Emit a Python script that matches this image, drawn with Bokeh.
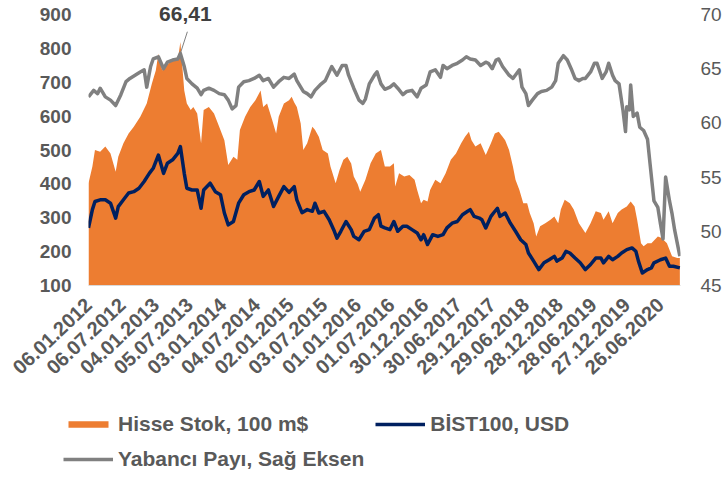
from bokeh.plotting import figure
from bokeh.models import (Range1d, LinearAxis, FixedTicker, Label, Legend, LegendItem,
                          ColumnDataSource)
from bokeh.layouts import column
from bokeh.embed import file_html
from bokeh.resources import INLINE

# ---------------- data (weekly index from 06.01.2012) ----------------
x_tick_weeks = [0, 26, 52, 78, 104, 130, 156, 182, 208, 234,
                260, 286, 312, 338, 364, 390, 416, 442]
x_labels = ["06.01.2012", "06.07.2012", "04.01.2013", "05.07.2013", "03.01.2014",
            "04.07.2014", "02.01.2015", "03.07.2015", "01.01.2016", "01.07.2016",
            "30.12.2016", "30.06.2017", "29.12.2017", "29.06.2018", "28.12.2018",
            "28.06.2019", "27.12.2019", "26.06.2020"]
left_ticks = [100, 200, 300, 400, 500, 600, 700, 800, 900]
right_ticks = [45, 50, 55, 60, 65, 70]

# Hisse Stok, 100 m$
stock_week = [0, 3, 5, 9, 13, 17, 21, 23, 27, 31,
              35, 40, 45, 49, 52, 54, 57, 60, 62, 66,
              69, 71, 74, 76, 79, 81, 84, 87, 89, 93,
              97, 101, 105, 108, 112, 115, 117, 121, 125, 129,
              133, 135, 138, 142, 145, 147, 151, 155, 157, 159,
              161, 164, 166, 169, 173, 175, 178, 181, 185, 187,
              191, 194, 197, 200, 203, 205, 208, 210, 214, 218,
              222, 226, 229, 233, 236, 237, 240, 244, 248, 252,
              254, 257, 259, 262, 264, 268, 272, 276, 280, 284,
              288, 291, 294, 296, 299, 303, 307, 311, 314, 317,
              320, 322, 325, 328, 330, 333, 336, 339, 341, 344,
              346, 349, 353, 357, 360, 363, 365, 368, 372, 375,
              379, 384, 388, 392, 396, 398, 402, 405, 409, 412,
              416, 419, 422, 424, 427, 429, 432, 435, 440, 443,
              447, 451, 455, 457]
stock_val = [402, 451, 500, 495, 510, 490, 436, 480, 520, 549,
             569, 598, 637, 696, 735, 784, 735, 755, 755, 770,
             765, 819, 676, 637, 618, 627, 608, 520, 618, 627,
             608, 569, 529, 456, 480, 471, 559, 598, 627, 647,
             676, 627, 637, 588, 549, 598, 637, 647, 657, 640,
             627, 578, 500, 520, 569, 560, 539, 500, 490, 451,
             402, 441, 471, 480, 460, 422, 400, 377, 412, 461,
             490, 500, 451, 451, 461, 392, 431, 422, 426, 412,
             382, 343, 353, 348, 382, 412, 402, 431, 471, 490,
             520, 539, 554, 529, 510, 520, 485, 520, 549, 554,
             539, 529, 500, 451, 412, 382, 343, 343, 314, 284,
             245, 275, 284, 294, 304, 284, 324, 353, 343, 324,
             284, 255, 284, 319, 314, 294, 319, 284, 314, 324,
             333, 348, 333, 294, 225, 216, 225, 225, 245, 240,
             225, 186, 181, 181]

# BIST100, USD
bist_week = [0, 3, 5, 9, 13, 17, 21, 23, 27, 31,
             35, 39, 43, 47, 50, 54, 58, 61, 65, 69,
             71, 74, 76, 80, 84, 87, 89, 94, 98, 102,
             105, 108, 112, 116, 120, 124, 128, 132, 135, 139,
             143, 147, 151, 155, 159, 161, 165, 169, 173, 175,
             178, 182, 186, 190, 192, 195, 199, 203, 205, 209,
             213, 217, 221, 224, 226, 229, 233, 236, 239, 243,
             246, 250, 254, 257, 259, 262, 266, 270, 274, 277,
             281, 285, 289, 293, 295, 298, 302, 304, 307, 311,
             313, 316, 318, 322, 326, 330, 334, 338, 340, 344,
             348, 352, 356, 360, 362, 366, 369, 372, 376, 380,
             384, 388, 392, 396, 398, 402, 405, 409, 412, 416,
             420, 423, 425, 428, 432, 435, 437, 442, 446, 449,
             452, 457]
bist_val = [270, 324, 348, 353, 353, 343, 299, 333, 353, 373,
            377, 387, 407, 431, 446, 485, 431, 461, 471, 490,
            510, 431, 387, 382, 382, 328, 382, 402, 377, 368,
            314, 279, 289, 343, 368, 377, 382, 407, 363, 382,
            333, 363, 392, 375, 392, 353, 315, 324, 319, 343,
            314, 319, 294, 260, 240, 260, 289, 265, 245, 235,
            260, 265, 299, 309, 275, 270, 265, 289, 260, 275,
            275, 265, 255, 235, 250, 221, 250, 245, 250, 270,
            284, 289, 309, 319, 324, 304, 299, 294, 270, 304,
            314, 328, 304, 314, 284, 260, 235, 221, 196, 172,
            147, 167, 176, 186, 172, 181, 201, 196, 181, 167,
            147, 162, 181, 181, 167, 186, 176, 186, 196, 206,
            211, 201, 172, 137, 147, 152, 167, 176, 181, 157,
            157, 152]

# Yabanci Payi (right axis, %)
gray_week = [0, 4, 7, 9, 13, 17, 21, 25, 29, 32,
             36, 40, 43, 45, 48, 50, 54, 58, 61, 65,
             69, 71, 74, 76, 80, 84, 87, 89, 93, 97,
             101, 105, 108, 111, 114, 116, 120, 124, 128, 132,
             135, 139, 143, 147, 151, 155, 159, 161, 164, 166,
             169, 172, 175, 179, 183, 186, 188, 192, 196, 199,
             201, 205, 209, 212, 214, 217, 221, 223, 226, 229,
             233, 236, 239, 243, 246, 250, 254, 257, 261, 264,
             268, 272, 274, 277, 281, 285, 289, 292, 295, 299,
             303, 307, 309, 312, 315, 317, 320, 325, 328, 333,
             335, 338, 340, 343, 347, 350, 354, 358, 361, 363,
             367, 370, 373, 376, 379, 382, 384, 388, 391, 393,
             397, 400, 402, 405, 407, 410, 413, 415, 416, 418,
             419, 421, 424, 426, 429, 432, 434, 437, 440, 442,
             444, 446, 449, 451, 453, 457]
gray_val = [62.4, 63.0, 62.7, 63.2, 62.4, 62.1, 61.6, 62.6, 63.8, 64.1,
            64.4, 64.7, 64.9, 63.3, 65.2, 65.9, 66.1, 65.0, 65.6, 65.8,
            65.9, 66.41, 65.2, 64.1, 63.6, 63.2, 62.6, 63.0, 63.2, 63.0,
            62.7, 62.6, 62.1, 61.3, 61.6, 63.3, 63.8, 63.9, 64.1, 64.4,
            63.9, 64.1, 63.3, 63.8, 64.2, 64.1, 64.5, 63.9, 63.3, 62.9,
            62.7, 62.4, 63.0, 63.5, 63.9, 64.7, 65.2, 64.4, 65.3, 65.3,
            64.4, 63.2, 62.1, 61.8, 62.2, 63.6, 64.4, 64.7, 63.6, 63.1,
            63.3, 63.6, 63.2, 62.6, 62.9, 63.0, 62.4, 63.2, 63.5, 64.7,
            64.9, 64.2, 65.3, 65.0, 65.3, 65.5, 65.8, 66.1, 65.9, 65.8,
            65.3, 65.6, 65.5, 65.0, 65.8, 65.9, 65.2, 64.4, 64.1, 64.9,
            63.3, 62.7, 61.6, 62.1, 62.7, 62.9, 63.0, 63.3, 63.9, 65.5,
            66.2, 65.8, 65.0, 64.1, 63.9, 64.1, 64.1, 64.7, 65.5, 65.5,
            64.1, 64.7, 65.5, 64.4, 63.9, 63.6, 61.2, 59.2, 61.5, 61.2,
            63.5, 60.6, 60.9, 59.6, 59.3, 58.5, 56.2, 52.8, 52.2, 50.7,
            49.3, 55.0, 52.8, 51.6, 50.1, 47.7]

series_names = ["Hisse Stok, 100 m$", "BİST100, USD", "Yabancı Payı, Sağ Eksen"]

# ---------------- style ----------------
ORANGE = "#ED7D31"
NAVY = "#002060"
GRAY = "#808080"
TXT = "#595959"
FONT = "Liberation Sans"

src_stock = ColumnDataSource(dict(x=stock_week, y=stock_val))
src_bist = ColumnDataSource(dict(x=bist_week, y=bist_val))
src_gray = ColumnDataSource(dict(x=gray_week, y=gray_val))

# frame spans y = 2..285 px; the 900 / 70 level sits 12 px below the frame top
HEADROOM = 12 / 271
l_lo, l_hi = left_ticks[0], left_ticks[-1]
r_lo, r_hi = right_ticks[0], right_ticks[-1]

p = figure(width=726, height=395, output_backend="svg", toolbar_location=None,
           x_range=Range1d(0, 457.5),
           y_range=Range1d(l_lo, l_hi + (l_hi - l_lo) * HEADROOM),
           min_border_left=88, min_border_right=46, min_border_top=2, min_border_bottom=110,
           frame_align=False)
p.outline_line_color = None
p.grid.visible = False
p.extra_y_ranges = {"right": Range1d(r_lo, r_hi + (r_hi - r_lo) * HEADROOM)}

p.varea(x="x", y1=l_lo, y2="y", source=src_stock, fill_color=ORANGE)
p.line("x", "y", source=src_bist, line_color=NAVY, line_width=3.5, line_join="round")
p.line("x", "y", source=src_gray, y_range_name="right", line_color=GRAY,
       line_width=3.5, line_join="round")

# annotation at the maximum of the foreign share series
pk = max(range(len(gray_val)), key=lambda i: gray_val[i])
pw, pv = gray_week[pk], gray_val[pk]
p.segment(x0=[pw], y0=[pv], x1=[pw + 5.4], y1=[pv + 2.0], y_range_name="right",
          line_color=GRAY, line_width=1)
p.add_layout(Label(x=pw, y=pv, y_range_name="right",
                   text=f"{pv:.2f}".replace(".", ","), x_offset=5, y_offset=39,
                   text_align="center", text_baseline="middle",
                   text_font=FONT, text_font_size="21px", text_font_style="bold",
                   text_color="#404040"))

# x axis
xa = p.xaxis[0]
xa.ticker = FixedTicker(ticks=x_tick_weeks)
xa.major_label_overrides = {w: s for w, s in zip(x_tick_weeks, x_labels)}
xa.major_label_orientation = 0.76
xa.major_label_standoff = 16
xa.axis_line_color = "#D9D9D9"
xa.axis_line_width = 1

# left axis
ya = p.yaxis[0]
ya.ticker = FixedTicker(ticks=left_ticks)
ya.axis_line_color = None
ya.major_label_standoff = 17
ya.major_label_text_font_style = "bold"
ya.major_label_text_font_size = "19px"

# right axis
ra = LinearAxis(y_range_name="right", ticker=FixedTicker(ticks=right_ticks))
ra.axis_line_color = None
ra.major_label_standoff = 20
ra.major_label_text_font_style = "normal"
ra.major_label_text_font_size = "19px"
p.add_layout(ra, "right")

for ax in [xa, ya, ra]:
    ax.major_tick_line_color = None
    ax.minor_tick_line_color = None
    ax.major_tick_out = 0
    ax.major_tick_in = 0
    ax.minor_tick_out = 0
    ax.minor_tick_in = 0
    ax.major_label_text_font = FONT
    ax.major_label_text_color = TXT
xa.major_label_text_font_style = "bold"
xa.major_label_text_font_size = "20px"

# ---------------- legend strip (series drawn out of view, only their keys show) ----------------
lg = figure(width=726, height=81, output_backend="svg", toolbar_location=None,
            x_range=Range1d(-20, -10), y_range=Range1d(0, 1),
            x_axis_location=None, y_axis_location=None, min_border=0,
            frame_align=False)
lg.grid.visible = False
lg.outline_line_color = None
k1 = lg.varea(x="x", y1=l_lo, y2="y", source=src_stock, fill_color=ORANGE)
k2 = lg.line("x", "y", source=src_bist, line_color=NAVY, line_width=3.5)
k3 = lg.line("x", "y", source=src_gray, line_color=GRAY, line_width=3.5)
legend = Legend(items=[LegendItem(label=series_names[0], renderers=[k1]),
                       LegendItem(label=series_names[1], renderers=[k2]),
                       LegendItem(label=series_names[2], renderers=[k3])],
                orientation="horizontal", ncols=2, location=(63, 5),
                glyph_width=50, glyph_height=8, label_standoff=5, spacing=11,
                padding=0, margin=0,
                label_text_font=FONT, label_text_font_style="bold",
                label_text_font_size="21px", label_text_color=TXT,
                background_fill_alpha=0, border_line_alpha=0)
lg.add_layout(legend)

open("out.html", "w").write(file_html(column(p, lg), INLINE))
